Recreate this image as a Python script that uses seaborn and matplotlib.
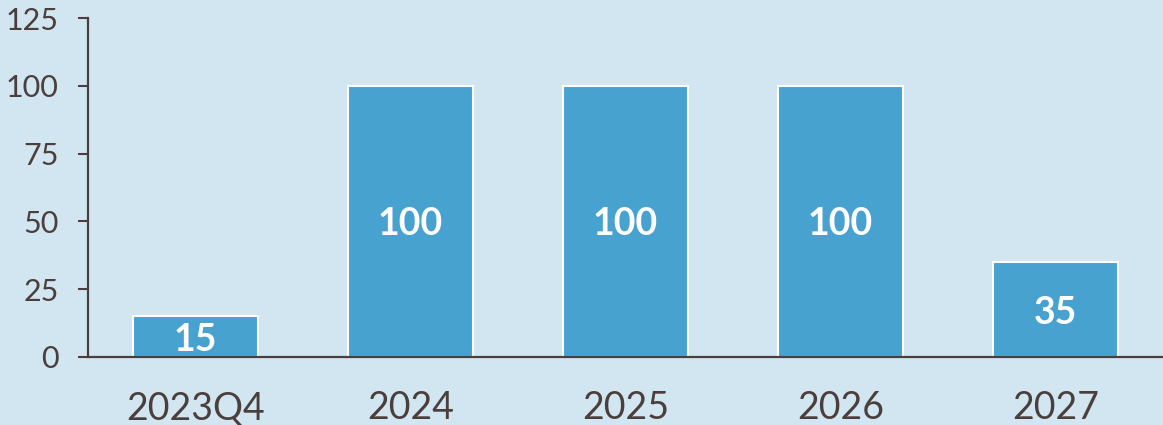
import matplotlib
matplotlib.use('Agg')
import matplotlib.pyplot as plt
import seaborn as sns
import pandas as pd

# data
periods = ['2023Q4', '2024', '2025', '2026', '2027']
values = [15, 100, 100, 100, 35]
yticks = [0, 25, 50, 75, 100, 125]

bg = '#d2e6f1'
bar_color = '#48a2d0'
ink = '#4a3f3c'

sns.set_style('white')
plt.rcParams['font.family'] = ['Lato', 'DejaVu Sans']

df = pd.DataFrame({'period': periods, 'value': values})

fig = plt.figure(figsize=(11.63, 4.25), dpi=100)
fig.patch.set_facecolor(bg)
ax = fig.add_axes([88/1163, 1 - 357/425, 1075/1163, (357-18)/425])
ax.set_facecolor(bg)

sns.barplot(data=df, x='period', y='value', color=bar_color, saturation=1,
            width=0.586, edgecolor='white', linewidth=1.5, ax=ax)

# value labels inside the bars
for i, v in enumerate(values):
    ax.text(i, v/2, str(v), ha='center', va='center_baseline', color='white',
            fontsize=27, fontweight='bold')

ax.set_xlim(-0.5, 4.5)
ax.set_ylim(0, 125)
ax.set_yticks(yticks)
ax.set_xlabel('')
ax.set_ylabel('')

for s in ['top', 'right']:
    ax.spines[s].set_visible(False)
for s in ['left', 'bottom']:
    ax.spines[s].set_color(ink)
    ax.spines[s].set_linewidth(1.6)

ax.tick_params(axis='y', length=7, width=1.5, color=ink, labelcolor=ink,
               labelsize=22, pad=14, left=True)
ax.tick_params(axis='x', length=0, labelcolor=ink, labelsize=27, pad=24)

fig.savefig('out.png', dpi=100, facecolor=bg)
